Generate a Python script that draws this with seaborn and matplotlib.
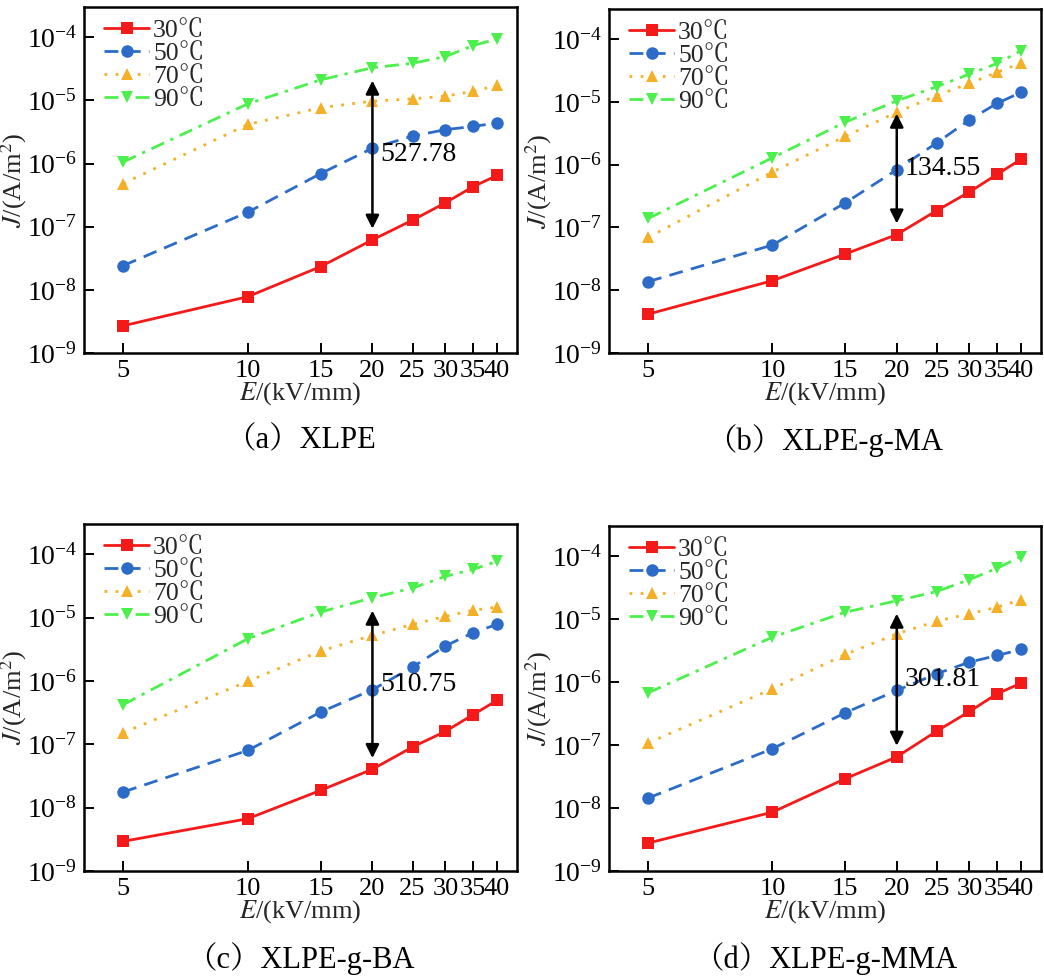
import numpy as np
import pandas as pd
import matplotlib
matplotlib.use("Agg")
import matplotlib.pyplot as plt
import matplotlib.ticker as mticker
import seaborn as sns

# ---------------- data ----------------
E = [5, 10, 15, 20, 25, 30, 35, 40]
temps = ["30℃", "50℃", "70℃", "90℃"]

xlpe_30 = [2.7e-9, 7.8e-9, 2.34e-8, 6.2e-8, 1.27e-7, 2.39e-7, 4.3e-7, 6.5e-7]
xlpe_50 = [2.42e-8, 1.7e-7, 6.95e-7, 1.75e-6, 2.73e-6, 3.44e-6, 3.88e-6, 4.39e-6]
xlpe_70 = [4.83e-7, 4.18e-6, 7.66e-6, 9.75e-6, 1.06e-5, 1.17e-5, 1.39e-5, 1.73e-5]
xlpe_90 = [1.06e-6, 8.85e-6, 2.12e-5, 3.3e-5, 3.88e-5, 4.95e-5, 7.4e-5, 9.4e-5]

ma_30 = [4.16e-9, 1.42e-8, 3.77e-8, 7.7e-8, 1.86e-7, 3.68e-7, 7.03e-7, 1.22e-6]
ma_50 = [1.37e-8, 5.25e-8, 2.46e-7, 8.3e-7, 2.23e-6, 5.18e-6, 9.5e-6, 1.42e-5]
ma_70 = [6.94e-8, 7.65e-7, 2.82e-6, 6.85e-6, 1.26e-5, 1.98e-5, 2.96e-5, 4.16e-5]
ma_90 = [1.39e-7, 1.29e-6, 4.75e-6, 1.04e-5, 1.75e-5, 2.78e-5, 4.11e-5, 6.53e-5]

ba_30 = [2.94e-9, 6.7e-9, 1.88e-8, 4.05e-8, 9.08e-8, 1.6e-7, 2.94e-7, 4.95e-7]
ba_50 = [1.77e-8, 8.03e-8, 3.24e-7, 7.3e-7, 1.66e-6, 3.57e-6, 5.8e-6, 7.85e-6]
ba_70 = [1.53e-7, 9.89e-7, 2.98e-6, 5.26e-6, 7.85e-6, 1.05e-5, 1.31e-5, 1.47e-5]
ba_90 = [4.23e-7, 4.66e-6, 1.23e-5, 2.07e-5, 2.94e-5, 4.5e-5, 5.8e-5, 7.74e-5]

mma_30 = [2.78e-9, 8.6e-9, 2.92e-8, 6.5e-8, 1.67e-7, 3.42e-7, 6.53e-7, 9.64e-7]
mma_50 = [1.44e-8, 8.75e-8, 3.26e-7, 7.38e-7, 1.36e-6, 2.08e-6, 2.65e-6, 3.3e-6]
mma_70 = [1.08e-7, 7.84e-7, 2.75e-6, 5.85e-6, 9.29e-6, 1.22e-5, 1.55e-5, 2.05e-5]
mma_90 = [6.77e-7, 5.18e-6, 1.29e-5, 1.96e-5, 2.75e-5, 4.26e-5, 6.45e-5, 9.88e-5]

panels = ["（a）XLPE", "（b）XLPE-g-MA", "（c）XLPE-g-BA", "（d）XLPE-g-MMA"]
ratios = ["527.78", "134.55", "510.75", "301.81"]
panel_data = [
    [xlpe_30, xlpe_50, xlpe_70, xlpe_90],
    [ma_30, ma_50, ma_70, ma_90],
    [ba_30, ba_50, ba_70, ba_90],
    [mma_30, mma_50, mma_70, mma_90],
]

# ---------------- style ----------------
sns.set_theme(style="white")
plt.rcParams["font.family"] = ["Liberation Serif", "Noto Serif CJK SC", "Noto Sans CJK SC", "DejaVu Serif"]
plt.rcParams["mathtext.fontset"] = "stix"

colors = ["#f41a1a", "#2c6cc8", "#f5b02a", "#4cf04c"]
styles = ["-", (0, (5, 3)), (0, (1, 3)), (0, (5, 2.5, 1.2, 2.5))]
markers = ["s", "o", "^", "v"]

W, H = 1044, 977
fig = plt.figure(figsize=(W / 100, H / 100), dpi=100)

boxes = [
    (84, 7, 517, 353),
    (609, 9, 1041, 353),
    (84, 524, 517, 871),
    (609, 526, 1041, 871),
]

for i, (l, t, r, b) in enumerate(boxes):
    ax = fig.add_axes([l / W, 1 - b / H, (r - l) / W, (b - t) / H])
    rows = []
    for k, T in enumerate(temps):
        for x, y in zip(E, panel_data[i][k]):
            rows.append({"E": x, "J": y, "T": T})
    df = pd.DataFrame(rows)
    for k, T in enumerate(temps):
        sub = df[df["T"] == T]
        sns.lineplot(data=sub, x="E", y="J", ax=ax, color=colors[k],
                     linestyle=styles[k], marker=markers[k], markersize=9,
                     markeredgewidth=0, linewidth=2.0, label=T)
    ax.set_xscale("log")
    ax.set_yscale("log")
    ax.set_xlim(4.02, 44.7)
    ax.set_ylim(1e-9, 10 ** -3.52)
    ax.set_xticks(E)
    ax.xaxis.set_major_formatter(mticker.FixedFormatter([str(v) for v in E]))
    ax.xaxis.set_minor_locator(mticker.NullLocator())
    ax.yaxis.set_major_locator(mticker.LogLocator(base=10, numticks=10))
    ax.yaxis.set_minor_locator(mticker.LogLocator(base=10, subs=np.arange(2, 10), numticks=20))
    ax.yaxis.set_minor_formatter(mticker.NullFormatter())
    ax.tick_params(axis="both", which="major", direction="in", length=7, width=1.4,
                   colors="black", pad=5)
    ax.tick_params(axis="y", which="major", labelsize=20)
    ax.tick_params(axis="x", which="major", labelsize=19)
    ax.tick_params(axis="y", which="minor", direction="in", length=4, width=1.0)
    ax.tick_params(left=True, bottom=True, top=False, right=False)
    for s in ax.spines.values():
        s.set_color("black")
        s.set_linewidth(1.8)
    ax.set_xlabel(r"$E$/(kV/mm)", fontsize=19, labelpad=-1)
    ax.set_ylabel(r"$J$/(A/m$^2$)", fontsize=19, labelpad=-2)

    # double arrow at 20 kV/mm
    j30 = panel_data[i][0][3]
    j90 = panel_data[i][3][3]
    y_lo = j30 * 1.5
    y_hi = j90 / 1.6
    ax.annotate("", xy=(20, y_hi), xytext=(20, y_lo),
                arrowprops=dict(arrowstyle="<|-|>", color="black", lw=1.8,
                                mutation_scale=20, shrinkA=0, shrinkB=0))
    ax.text(20.9, np.sqrt(y_lo * y_hi), ratios[i], fontsize=20, ha="left",
            va="center", color="black")

    ax.legend(loc="upper left", frameon=False, fontsize=18.5, handlelength=1.75,
              handletextpad=0.15, labelspacing=0.0, borderaxespad=0.05,
              bbox_to_anchor=(0.02, 1.0))
    # caption
    cx = (l + r) / 2 / W
    cy = 1 - (b + 88) / H
    fig.text(cx, cy, panels[i], fontsize=22, ha="center", va="center", color="black")

fig.savefig("out.png", dpi=100)
